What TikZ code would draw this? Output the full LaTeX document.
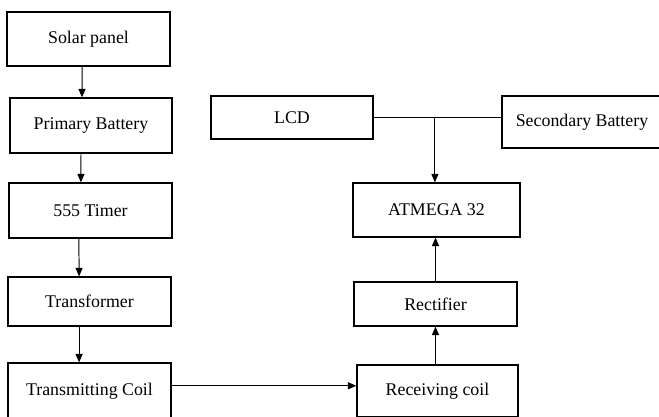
\documentclass[tikz,border=0pt]{standalone}
\usepackage{fontspec}
\setmainfont{Liberation Serif}
\usetikzlibrary{arrows.meta,positioning,calc}
\tikzset{
  blockbox/.style={draw=black, line width=0.9pt, fill=white, inner sep=0pt, text=black,
    font=\fontsize{12.7}{14}\selectfont},
  flow/.style={-{Triangle[length=6pt,width=5pt]}, black, line width=0.7pt},
  wire/.style={black, line width=0.7pt},
}
\begin{document}
\begin{tikzpicture}
  \clip (0,0) rectangle (16.475,10.425);

  % transmitter side
  \node[blockbox, minimum width=4.075cm, minimum height=1.35cm] (solar) at (2.2125,9.45) {Solar panel};
  \node[blockbox, minimum width=4.05cm, minimum height=1.375cm] (primary) at (2.275,7.2875) {Primary Battery};
  \node[blockbox, minimum width=4.075cm, minimum height=1.375cm] (timer) at (2.2625,5.1625) {555 Timer};
  \node[blockbox, minimum width=4.075cm, minimum height=1.225cm] (transformer) at (2.2375,2.8875) {Transformer};
  \node[blockbox, minimum width=4.075cm, minimum height=1.4cm] (txcoil) at (2.2375,0.65) {Transmitting Coil};

  \draw[flow] ([xshift=-0.16cm]solar.south) -- ([xshift=-0.225cm]primary.north);
  \draw[flow] ([xshift=-0.25cm]primary.south) -- ([xshift=-0.24cm]timer.north);
  \draw[flow] ([xshift=-0.29cm]timer.south) -- ([xshift=-0.26cm]transformer.north);
  \draw[flow] ([xshift=-0.26cm]transformer.south) -- ([xshift=-0.26cm]txcoil.north);

  % receiver side
  \node[blockbox, minimum width=4.05cm, minimum height=1.075cm] (lcd) at (7.3,7.4875) {LCD};
  \node[blockbox, minimum width=4.0cm, minimum height=1.3cm] (secbat) at (14.55,7.375) {Secondary Battery};
  \node[blockbox, minimum width=4.175cm, minimum height=1.35cm] (atmega) at (10.9125,5.175) {ATMEGA 32};
  \node[blockbox, minimum width=4.075cm, minimum height=1.1cm] (rect) at (10.8875,2.825) {Rectifier};
  \node[blockbox, minimum width=4.025cm, minimum height=1.3cm] (rxcoil) at (10.9375,0.65) {Receiving coil};

  \coordinate (join) at ([xshift=-0.04cm]lcd.east -| atmega.north);
  \draw[wire] (lcd.east) -- (secbat.west |- lcd.east);
  \draw[flow] (join) -- ([xshift=-0.04cm]atmega.north);
  \draw[flow] ([yshift=0.13cm]txcoil.east) -- ([yshift=0.13cm]rxcoil.west);
  \draw[flow] (rxcoil.north -| rect.south) -- (rect.south);
  \draw[flow] (rect.north) -- (rect.north |- atmega.south);
\end{tikzpicture}
\end{document}
